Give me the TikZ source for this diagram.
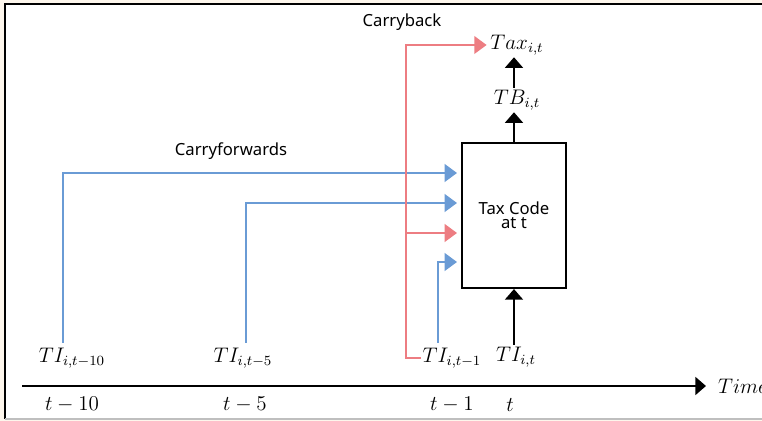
\documentclass[tikz,border=0pt]{standalone}
\usepackage{fontspec}
\newfontfamily\lblfont{Noto Sans}
\usepackage{tikz}
\usetikzlibrary{arrows.meta}
\definecolor{cfblue}{RGB}{106,155,213}
\definecolor{cbpink}{RGB}{237,125,130}
\definecolor{framebg}{RGB}{253,246,236}

\begin{document}
\begin{tikzpicture}[
  x=0.02cm,y=-0.02cm,
  every node/.style={font=\fontsize{12}{14}\selectfont},
  lbl/.style={font=\lblfont\fontsize{9.5}{8}\selectfont},
  math/.style={inner sep=1pt},
  flow/.style={line width=1.2pt,-{Triangle[length=7pt,width=10pt]}},
  cf/.style={flow,cfblue},
  cb/.style={flow,cbpink},
  blk/.style={line width=1.5pt,-{Triangle[length=6pt,width=10pt]}}
]
  \useasboundingbox (0,0) rectangle (762,421);
  \clip (0,0) rectangle (762,421);
  % frame
  \fill[framebg] (0,0) rectangle (762,421);
  \fill[white] (5,4) rectangle (762,419);
  \draw[line width=1.2pt] (5,419) -- (5,4) -- (762,4);
  \draw[black!25,line width=1pt] (5,419) -- (762,419);

  % time axis
  \coordinate (ax0) at (22,386);
  \coordinate (ax1) at (706,386);
  \draw[blk] (ax0) -- (ax1);
  \node[math,anchor=west] (time) at (716,386) {$Time$};
  \node[math] (t10) at (72,405) {$t-10$};
  \node[math] (t5) at (245,405) {$t-5$};
  \node[math] (t1) at (452,405) {$t-1$};
  \node[math] (t0) at (510,405) {$t$};

  % incomes
  \node[math] (ti10) at (72,358) {$TI_{i,t-10}$};
  \node[math] (ti5) at (243,358) {$TI_{i,t-5}$};
  \node[math] (ti1) at (452,358) {$TI_{i,t-1}$};
  \node[math] (ti) at (516,357) {$TI_{i,t}$};

  % tax code and outputs
  \node[draw,line width=1.2pt,lbl,align=center,minimum width=2.08cm,minimum height=2.9cm] (code) at (514,215.5) {Tax Code\\at t};
  \node[math] (tb) at (517,100) {$TB_{i,t}$};
  \node[math] (tax) at (517,45) {$Tax_{i,t}$};
  \node[lbl] (cbtxt) at (402,22) {Carryback};
  \node[lbl] (cftxt) at (231,151) {Carryforwards};

  \coordinate (s10) at (63,343);
  \coordinate (s5) at (246,343);
  \coordinate (s1) at (438,343);
  \coordinate (cbx) at (406,356);
  \coordinate (in1) at (457,173);
  \coordinate (in2) at (457,203);
  \coordinate (in3) at (457,233);
  \coordinate (in4) at (457,262);

  \draw[cf] (s10) |- (in1);
  \draw[cf] (s5) |- (in2);
  \draw[cf] (s1) |- (in4);
  \draw[cb,shorten >=1pt] (ti1.west) -- (ti1.west -| cbx) |- (tax.west);
  \draw[cb] (cbx |- in3) -- (in3);

  \draw[blk] (ti.north -| code) -- (code.south);
  \draw[blk] (code.north) -- (tb.south -| code);
  \draw[blk] (tb.north -| code) -- (tax.south -| code);
\end{tikzpicture}
\end{document}
